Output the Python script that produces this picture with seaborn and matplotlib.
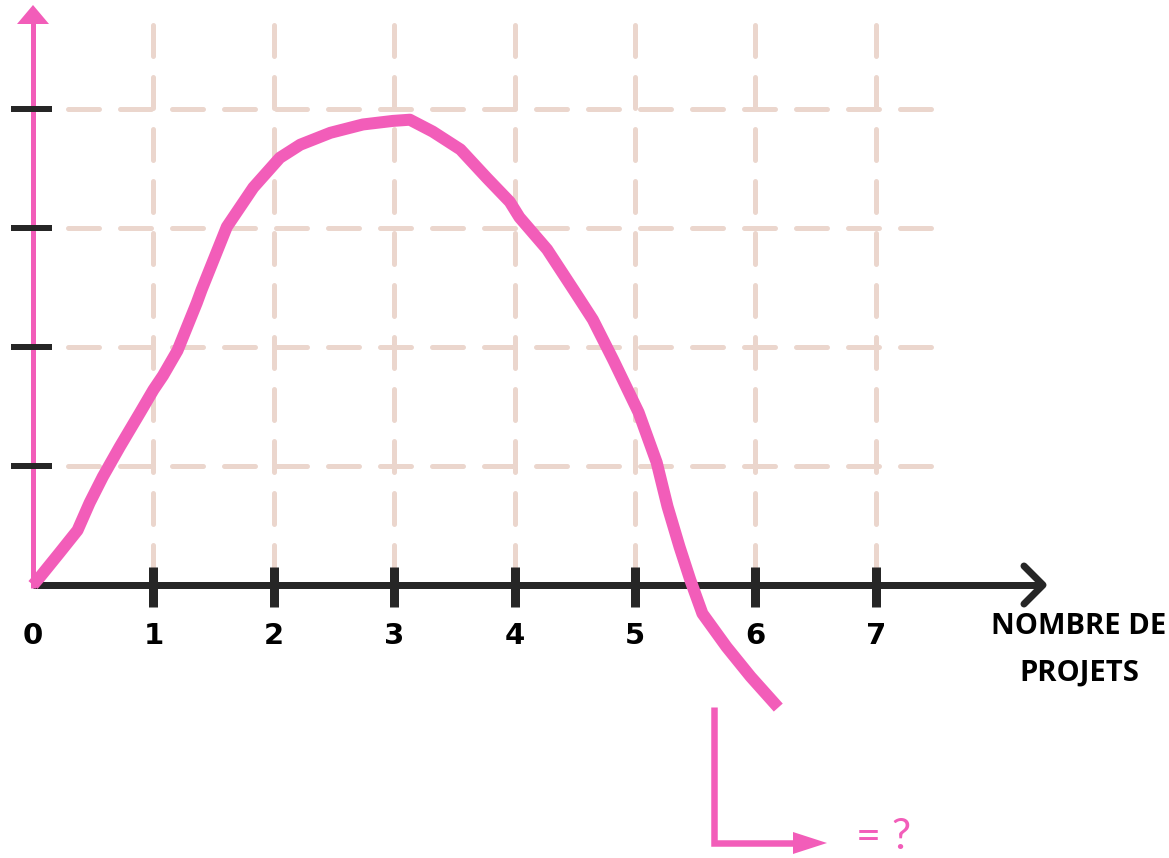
import matplotlib
matplotlib.use("Agg")
import matplotlib.pyplot as plt
from matplotlib.patches import Polygon
import seaborn as sns

# ---- data -------------------------------------------------------------
projets = [0.0, 0.06, 0.22, 0.37, 0.47, 0.58, 0.72, 0.89, 1.00, 1.08, 1.20,
           1.28, 1.36, 1.40, 1.61, 1.83, 2.05, 2.22, 2.47, 2.74, 2.99, 3.13,
           3.32, 3.55, 3.77, 3.96, 4.04, 4.27, 4.49, 4.65, 4.82, 5.03, 5.18,
           5.27, 5.37, 5.46, 5.56, 5.76, 5.96, 6.19]
valeur = [0.0, 0.07, 0.27, 0.46, 0.69, 0.91, 1.16, 1.45, 1.64, 1.76, 1.97,
          2.17, 2.37, 2.48, 3.01, 3.34, 3.59, 3.70, 3.80, 3.87, 3.90, 3.91,
          3.81, 3.66, 3.42, 3.22, 3.09, 2.82, 2.48, 2.23, 1.89, 1.45, 1.03,
          0.66, 0.32, 0.04, -0.24, -0.52, -0.77, -1.03]
x_ticks = [0, 1, 2, 3, 4, 5, 6, 7]
x_labels = ["0", "1", "2", "3", "4", "5", "6", "7"]
y_levels = [1, 2, 3, 4]
axis_title = ["NOMBRE DE", "PROJETS"]
question = "= ?"

# ---- style ------------------------------------------------------------
PINK = "#F25DB9"
INK = "#262626"
GRID = "#EBD6CD"
W, H = 1169, 858
SX, SY = 120.4, 119.0          # pixels per data unit
OX, OY = 33.0, 585.0           # pixel position of the origin

sns.set_theme(style="white")
plt.rcParams["lines.scale_dashes"] = False


def dx(px):
    return (px - OX) / SX


def dy(py):
    return (OY - py) / SY


fig = plt.figure(figsize=(W / 100, H / 100), dpi=100)
ax = fig.add_axes([0, 0, 1, 1])
ax.set_xlim(dx(0), dx(W))
ax.set_ylim(dy(H), dy(0))
ax.axis("off")

pt = 0.72  # points per pixel at 100 dpi

# dashed grid
dash = (0, (31 * pt, 21 * pt))
for x in x_ticks[1:]:
    ax.plot([x, x], [dy(25), dy(567)], color=GRID, lw=5 * pt,
            linestyle=dash, dash_capstyle="round", zorder=1)
for y in y_levels:
    ax.plot([dx(68), dx(940)], [y, y], color=GRID, lw=5 * pt,
            linestyle=dash, dash_capstyle="round", zorder=1)

# x axis with open arrow head
ax.plot([0, dx(1043)], [0, 0], color=INK, lw=7 * pt,
        solid_capstyle="butt", zorder=3)
ax.plot([dx(1024), dx(1043), dx(1024)], [dy(566), 0, dy(604)], color=INK,
        lw=7 * pt, solid_capstyle="round", solid_joinstyle="round", zorder=3)
for x in x_ticks[1:]:
    ax.plot([x, x], [dy(567), dy(607)], color=INK, lw=9 * pt,
            solid_capstyle="butt", zorder=3)
for x, lab in zip(x_ticks, x_labels):
    ax.text(x, dy(636), lab, ha="center", va="center", fontsize=21,
            fontweight="bold", family=["DejaVu Sans"], color="black")

# y axis in pink with arrow head
ax.plot([0, 0], [dy(588), dy(22)], color=PINK, lw=5 * pt,
        solid_capstyle="butt", zorder=4)
ax.add_patch(Polygon([[dx(17), dy(24)], [dx(49), dy(24)], [dx(33), dy(5)]],
                     closed=True, color=PINK, lw=0, zorder=4))
for y in y_levels:
    ax.plot([dx(11), dx(52)], [y, y], color=INK, lw=6 * pt,
            solid_capstyle="butt", zorder=5)

# the curve
sns.lineplot(x=projets, y=valeur, ax=ax, color=PINK, lw=12 * pt,
             sort=False, estimator=None, solid_capstyle="butt",
             solid_joinstyle="round", zorder=6)

# axis title, two lines
for line, py in zip(axis_title, [626, 673]):
    ax.text(dx(1079), dy(py), line, ha="center", va="center",
            fontsize=21, fontweight="bold",
            family=["Open Sans", "DejaVu Sans"], color="black")

# L-shaped pointer and question
ax.plot([dx(714), dx(714), dx(800)], [dy(707), dy(843), dy(843)],
        color=PINK, lw=6.5 * pt, solid_capstyle="butt",
        solid_joinstyle="miter", zorder=6)
ax.add_patch(Polygon([[dx(793), dy(832)], [dx(827), dy(843)],
                      [dx(793), dy(854)]], closed=True, color=PINK, lw=0,
                     zorder=6))
ax.text(dx(884), dy(849), question, ha="center", va="baseline", fontsize=31,
        family=["Lato", "DejaVu Sans"], color=PINK)

fig.savefig("out.png", dpi=100)
